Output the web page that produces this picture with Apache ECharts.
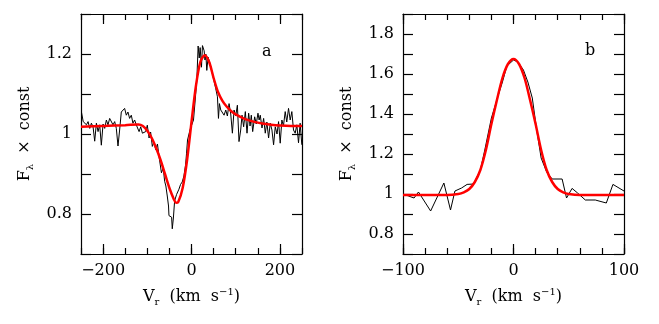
<!DOCTYPE html>
<html><head><meta charset="utf-8">
<script src="https://cdn.jsdelivr.net/npm/echarts@6/dist/echarts.min.js"></script>
<style>html,body{margin:0;padding:0;background:#fff}#c{width:659px;height:324px}</style>
</head><body><div id="c"></div>
<script>
// ---- Panel a: observed profile (km/s, flux) ----
const leftVel = [-249,-245,-241.5,-237.7,-234,-230.2,-226.5,-222.7,-219,-215.2,-211.4,-207.7,-204,-200.1,-196.4,-192.6,-188.9,-185.1,-181.3,-177.6,-173.8,-170.1,-166.3,-162.6,-158.8,-155,-151.3,-147.5,-143.8,-140,-136.2,-132.5,-128.7,-125,-121.2,-118.6,-114.9,-111.1,-107.4,-103.6,-100,-96,-92.5,-88.6,-85,-81,-77,-73.5,-70,-68,-64,-60.8,-58,-54.8,-52,-51,-47,-45,-43.5,-41,-38.2,-33.7,-28.4,-24.7,-21,-17.2,-13.4,-11.2,-9,-6,-3,0,4.5,8,12,15,17.5,19.6,22.6,24.8,28.6,30.5,32.4,34.6,37.6,42.1,47.4,51,54.9,58.7,61,63.2,66.2,70,73.7,77.5,81.2,85,88.8,92.5,96.3,100,103.8,107.5,111.3,114.3,118,121.8,125.6,129.3,132.5,135.3,138.4,142.9,146.5,150.4,153,155.6,159.5,163.2,166.9,170.5,174.4,178.2,182,185.7,189.5,193.5,197,200.7,204.5,208,212,215.5,219.5,223.3,227,230.8,234.6,238.3,242.1,245.8,249.6];
const leftFlux = [1.055,1.031,1.035,1.023,1.031,1.014,1.027,1.018,0.982,1.027,1.006,1.023,0.972,1.025,1.014,1.035,1.023,1.039,1.035,1.023,1.031,1.014,0.970,1.010,1.055,1.051,1.064,1.047,1.055,1.039,1.047,1.027,1.035,1.023,1.027,1.006,1.018,1.002,0.998,1.006,1.022,0.990,1.005,0.969,0.980,0.961,0.975,0.944,0.940,0.903,0.915,0.882,0.870,0.845,0.820,0.796,0.798,0.792,0.763,0.790,0.833,0.849,0.862,0.874,0.880,0.895,0.923,0.952,0.985,0.990,1.012,1.015,1.035,1.080,1.134,1.220,1.190,1.216,1.167,1.221,1.208,1.185,1.200,1.159,1.192,1.175,1.150,1.145,1.113,1.093,1.039,1.076,1.060,1.065,1.047,1.060,1.045,1.076,1.050,1.002,1.060,1.045,1.072,0.981,1.010,1.047,1.018,1.056,1.002,1.052,1.020,1.047,1.006,1.043,1.025,1.052,1.035,1.047,1.015,1.039,1.002,1.030,0.990,1.027,1.010,0.973,1.018,1.000,1.031,0.977,1.035,1.020,1.056,1.030,1.064,1.035,1.056,1.010,1.002,1.023,0.978,1.027,0.973];
// ---- Panel a: fitted model ----
const leftFitVel = [-250,-200,-150,-120,-110,-100,-90,-80,-70,-60,-50,-40,-35,-30,-20,-10,0,10,20,30,40,50,60,70,80,90,100,120,140,160,180,200,225,250];
const leftFitFlux = [1.018,1.020,1.022,1.024,1.020,1.008,0.990,0.965,0.935,0.900,0.865,0.837,0.828,0.830,0.865,0.935,1.030,1.120,1.180,1.197,1.180,1.140,1.105,1.083,1.068,1.057,1.049,1.038,1.031,1.026,1.023,1.021,1.020,1.020];
// ---- Panel b: observed profile ----
const rightVel = [-100,-95,-90,-86,-75,-63,-57,-53,-47,-42,-36,-30,-26,-20,-14,-10,-6,0,4,9,13,17,21,25,30,35,44,48,53,58,65,74,84,90,100];
const rightFlux = [1.0,0.99,0.98,1.01,0.915,1.055,0.92,1.015,1.03,1.048,1.05,1.12,1.22,1.38,1.49,1.56,1.64,1.67,1.66,1.62,1.56,1.48,1.32,1.18,1.11,1.075,1.075,0.98,1.028,1.005,0.97,0.97,0.955,1.048,1.015];
// ---- Panel b: fitted model ----
const rightFitVel = [-100,-80,-60,-50,-45,-40,-35,-30,-25,-20,-15,-10,-5,0,5,10,15,20,25,30,35,40,45,50,60,80,100];
const rightFitFlux = [0.995,0.995,0.995,1.0,1.008,1.025,1.06,1.12,1.22,1.35,1.47,1.58,1.65,1.675,1.65,1.58,1.47,1.35,1.22,1.12,1.06,1.025,1.008,1.0,0.995,0.995,0.995];
// ---- tick labels ----
const leftXLabels = [-200,0,200];
const rightXLabels = [-100,0,100];
const leftYLabels = [0.8,1,1.2];
const rightYLabels = [0.8,1,1.2,1.4,1.6,1.8];

const FONT = 'DejaVu Serif';
const fmt = v => (v < 0 ? '\u2212' + Math.abs(v) : String(Math.round(v*10)/10));
function range(a, b, s) { const r = []; for (let v = a; v <= b + 1e-9; v += s) r.push(Math.round(v*1000)/1000); return r; }

const xName = '{n|V}{sub|r}{n|  (km  s}{sup|\u22121}{n|)}';
const yName = '{n|F}{sub|\u03bb}{n|  \u00d7  const}';
const rich = {
  n: {fontFamily: FONT, fontSize: 16, color: '#000', lineHeight: 20},
  sub: {fontFamily: FONT, fontSize: 10, color: '#000', verticalAlign: 'bottom', lineHeight: 10},
  sup: {fontFamily: FONT, fontSize: 10, color: '#000', verticalAlign: 'top', lineHeight: 10}
};
const line = () => ({show: true, onZero: false, lineStyle: {color: '#000', width: 1.2}});
const tickStyle = () => ({color: '#000', width: 1.2});

const xAxis = [], yAxis = [];
function panel(gi, xmin, xmax, xstep, xlabels, ymin, ymax, ylabels) {
  const base = () => ({gridIndex: gi, type: 'value', min: xmin, max: xmax, interval: xstep, splitLine: {show: false}});
  const iMain = xAxis.length;
  xAxis.push(Object.assign(base(), {position: 'bottom', axisLine: line(),
    axisTick: {show: true, inside: true, length: 6, lineStyle: tickStyle()},
    axisLabel: {show: true, customValues: xlabels, formatter: fmt, margin: 9, fontFamily: FONT, fontSize: 16, color: '#000'},
    name: xName, nameLocation: 'middle', nameGap: 33, nameTextStyle: {rich: rich}}));
  xAxis.push(Object.assign(base(), {position: 'top', axisLine: line(),
    axisTick: {show: true, inside: true, length: 6, lineStyle: tickStyle()}, axisLabel: {show: false}}));
  // long ticks at the labelled values (category overlay with evenly spaced tick slots)
  const cats = range(xmin, xmax, xstep).map(String);
  const major = xlabels.map(String);
  ['bottom', 'top'].forEach(pos => xAxis.push({gridIndex: gi, type: 'category', data: cats, boundaryGap: false, position: pos,
    axisLine: {show: false}, axisLabel: {show: false}, splitLine: {show: false},
    axisTick: {show: true, inside: true, length: 10, lineStyle: tickStyle(), interval: (i, v) => major.indexOf(v) >= 0}}));
  const yb = () => ({gridIndex: gi, type: 'value', min: ymin, max: ymax, interval: 0.1, splitLine: {show: false}});
  const iY = yAxis.length;
  yAxis.push(Object.assign(yb(), {position: 'left', axisLine: line(),
    axisTick: {show: true, inside: true, length: 10, lineStyle: tickStyle()},
    axisLabel: {show: true, customValues: ylabels, formatter: fmt, margin: 9, fontFamily: FONT, fontSize: 16, color: '#000'},
    name: yName, nameLocation: 'middle', nameRotate: 90, nameGap: 46, nameTextStyle: {rich: rich}}));
  yAxis.push(Object.assign(yb(), {position: 'right', axisLine: line(),
    axisTick: {show: true, inside: true, length: 10, lineStyle: tickStyle()}, axisLabel: {show: false}}));
  return {x: iMain, y: iY};
}
const pa = panel(0, -250, 250, 50, leftXLabels, 0.7, 1.3, leftYLabels);
const pb = panel(1, -100, 100, 20, rightXLabels, 0.7, 1.9, rightYLabels);

const pairs = (xs, ys) => xs.map((v, i) => [v, ys[i]]);
const obs = (p, d) => ({type: 'line', xAxisIndex: p.x, yAxisIndex: p.y, data: d, symbol: 'none', lineStyle: {color: '#000', width: 1}, z: 2});
const fit = (p, d) => ({type: 'line', xAxisIndex: p.x, yAxisIndex: p.y, data: d, symbol: 'none', smooth: 0.3, lineStyle: {color: '#ff0000', width: 2.5}, z: 3});

const chart = echarts.init(document.getElementById('c'), null, {renderer: 'canvas'});
chart.setOption({
  animation: false,
  backgroundColor: '#fff',
  title: [
    {text: 'a', left: 257, top: 39, textStyle: {fontFamily: FONT, fontSize: 16, fontWeight: 'normal', color: '#000'}},
    {text: 'b', left: 580, top: 38, textStyle: {fontFamily: FONT, fontSize: 16, fontWeight: 'normal', color: '#000'}}
  ],
  grid: [
    {left: 81, top: 14, width: 221, height: 240},
    {left: 403, top: 14, width: 221, height: 240}
  ],
  xAxis: xAxis,
  yAxis: yAxis,
  series: [
    obs(pa, pairs(leftVel, leftFlux)),
    fit(pa, pairs(leftFitVel, leftFitFlux)),
    obs(pb, pairs(rightVel, rightFlux)),
    fit(pb, pairs(rightFitVel, rightFitFlux))
  ]
});
</script></body></html>
